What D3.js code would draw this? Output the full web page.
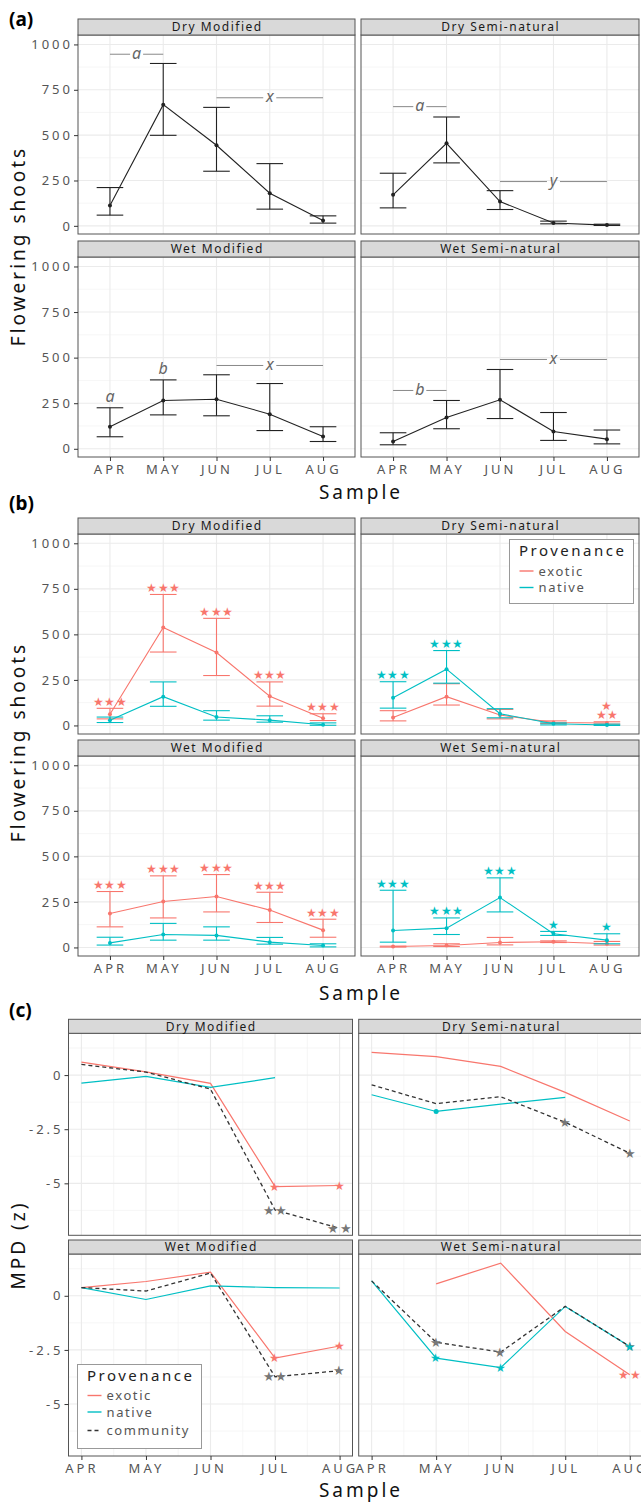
<!DOCTYPE html>
<html>
<head>
<meta charset="utf-8">
<script src="https://cdn.jsdelivr.net/npm/d3@7"></script>
<style>
body { margin: 0; background: #fff; }
text { font-family: "Noto Sans", sans-serif; }
</style>
</head>
<body>
<svg id="chart" width="641" height="1503"></svg>
<script>
// categories
var months = ["APR", "MAY", "JUN", "JUL", "AUG"];
var facets = ["Dry Modified", "Dry Semi-natural", "Wet Modified", "Wet Semi-natural"];

// axis ticks
var shootTicks = [0, 250, 500, 750, 1000];
var shootMinor = [125, 375, 625, 875];
var mpdTicks = [0, -2.5, -5];
var mpdMinor = [1.25, -1.25, -3.75, -6.25];
var monthMinor = [1.5, 2.5, 3.5, 4.5];

// (a) total flowering shoots, one row per facet
var totalMean = [[112, 668, 444, 180, 29], [171, 455, 134, 16, 4], [121, 265, 272, 190, 68], [40, 172, 269, 95, 53]];
var totalLow  = [[59, 499, 301, 92, 15], [99, 347, 90, 11, 2], [66, 186, 181, 100, 40], [22, 110, 166, 46, 27]];
var totalHigh = [[211, 895, 653, 343, 55], [290, 600, 194, 26, 9], [225, 378, 406, 358, 121], [88, 265, 435, 199, 103]];
// letter groups (month index from..to, height in shoots)
var groupBars = [
    {facet: 0, from: 0, to: 1, y: 946, label: "a"},
    {facet: 0, from: 2, to: 4, y: 706, label: "x"},
    {facet: 1, from: 0, to: 1, y: 657, label: "a"},
    {facet: 1, from: 2, to: 4, y: 244, label: "y"},
    {facet: 2, from: 2, to: 4, y: 457, label: "x"},
    {facet: 3, from: 0, to: 1, y: 320, label: "b"},
    {facet: 3, from: 2, to: 4, y: 490, label: "x"}
];
var groupLetters = [
    {facet: 2, month: 0, label: "a"},
    {facet: 2, month: 1, label: "b"}
];

// (b) flowering shoots by provenance
var exoticMean = [[61, 538, 400, 160, 40], [44, 158, 57, 16, 13], [186, 252, 280, 205, 95], [5, 11, 27, 31, 20]];
var exoticLow  = [[36, 403, 274, 106, 27], [25, 112, 36, 11, 7], [113, 162, 195, 137, 56], [2, 5, 14, 27, 13]];
var exoticHigh = [[94, 719, 588, 239, 64], [81, 229, 88, 25, 20], [307, 393, 400, 303, 155], [7, 20, 55, 36, 33]];
var nativeMean = [[29, 158, 46, 29, 4], [152, 309, 64, 9, 2], [25, 71, 66, 29, 11], [93, 106, 274, 75, 40]];
var nativeLow  = [[16, 105, 29, 18, 1], [95, 232, 42, 3, 0], [13, 40, 40, 18, 3], [29, 71, 195, 66, 20]];
var nativeHigh = [[46, 239, 81, 53, 14], [240, 411, 92, 14, 7], [56, 132, 113, 55, 20], [314, 162, 382, 88, 75]];
var exoticSig = [["***", "***", "***", "***", "***"], ["", "", "", "", "*\n**"], ["***", "***", "***", "***", "***"], ["", "", "", "", ""]];
var nativeSig = [["", "", "", "", ""], ["***", "***", "", "", ""], ["", "", "", "", ""], ["***", "***", "***", "*", "*"]];

// (c) MPD (z)
var mpdExotic    = [[0.6, 0.15, -0.38, -5.15, -5.1], [1.05, 0.85, 0.4, -0.8, -2.12], [0.38, 0.66, 1.09, -2.88, -2.32], [null, 0.55, 1.51, -1.65, -3.65]];
var mpdNative    = [[-0.37, -0.06, -0.57, -0.12, null], [-0.91, -1.68, -1.34, -1.03, null], [0.38, -0.17, 0.46, 0.38, 0.36], [0.69, -2.88, -3.32, -0.49, -2.34]];
var mpdCommunity = [[0.49, 0.14, -0.65, -6.23, -7.08], [-0.45, -1.32, -1.0, -2.18, -3.61], [0.38, 0.22, 1.05, -3.74, -3.46], [0.69, -2.15, -2.6, -0.49, -2.34]];
var mpdExoticSig    = [["", "", "", "*", "*"], ["", "", "", "", ""], ["", "", "", "*", "*"], ["", "", "", "", "**"]];
var mpdNativeSig    = [["", "", "", "", ""], ["", ".", "", "", ""], ["", "", "", "", ""], ["", "*", "*", "", "*"]];
var mpdCommunitySig = [["", "", "", "**", "**"], ["", "", "", "*", "*"], ["", "", "", "**", "*"], ["", "*", "*", "", "*"]];

var exoticCol = "#F8766D", nativeCol = "#00BFC4", commCol = "#333333", starGrey = "#777777";
var svg = d3.select("#chart");

function stars(s) { return s.replace(/\*/g, "\u2605"); }

// draws the 2x2 facet frame, returns one object per facet
function drawFrame(cfg) {
    return facets.map(function (name, i) {
        var c = i % 2, r = Math.floor(i / 2);
        var col = cfg.cols[c], row = cfg.rows[r];
        var p = {col: c, row: r, left: col[0], right: col[1], top: row.panel[0], bottom: row.panel[1]};
        var xs;
        if (cfg.discrete) {
            xs = d3.scalePoint().domain(months).range([p.left, p.right]).padding(0.6);
            p.xAt = function (k) { return xs(months[k]); };
        } else {
            xs = d3.scaleLinear().domain(cfg.xDomain).range([p.left, p.right]);
            p.xAt = function (k) { return xs(k + 1); };
        }
        p.y = d3.scaleLinear().domain(cfg.yDomain).range([p.bottom, p.top]);

        var g = svg.append("g");
        g.append("rect").attr("x", p.left).attr("y", p.top)
            .attr("width", p.right - p.left).attr("height", p.bottom - p.top).attr("fill", "#fff");
        g.selectAll(".ymin").data(cfg.yMinor).enter().append("line")
            .attr("x1", p.left).attr("x2", p.right)
            .attr("y1", function (d) { return p.y(d); }).attr("y2", function (d) { return p.y(d); })
            .attr("stroke", "#F2F2F2").attr("stroke-width", 0.7);
        if (!cfg.discrete) {
            g.selectAll(".xmin").data(monthMinor).enter().append("line")
                .attr("y1", p.top).attr("y2", p.bottom)
                .attr("x1", function (d) { return xs(d); }).attr("x2", function (d) { return xs(d); })
                .attr("stroke", "#F2F2F2").attr("stroke-width", 0.7);
        }
        g.selectAll(".ymaj").data(cfg.yTicks).enter().append("line")
            .attr("x1", p.left).attr("x2", p.right)
            .attr("y1", function (d) { return p.y(d); }).attr("y2", function (d) { return p.y(d); })
            .attr("stroke", "#EBEBEB").attr("stroke-width", 1.1);
        g.selectAll(".xmaj").data(months).enter().append("line")
            .attr("y1", p.top).attr("y2", p.bottom)
            .attr("x1", function (d, k) { return p.xAt(k); }).attr("x2", function (d, k) { return p.xAt(k); })
            .attr("stroke", "#EBEBEB").attr("stroke-width", 1.1);

        p.g = g.append("g");

        g.append("rect").attr("x", p.left).attr("y", p.top)
            .attr("width", p.right - p.left).attr("height", p.bottom - p.top)
            .attr("fill", "none").attr("stroke", "#555").attr("stroke-width", 1);

        // strip
        g.append("rect").attr("x", p.left).attr("y", row.strip[0])
            .attr("width", p.right - p.left).attr("height", row.strip[1] - row.strip[0])
            .attr("fill", "#D9D9D9").attr("stroke", "#555").attr("stroke-width", 1);
        g.append("text").attr("x", (p.left + p.right) / 2 + 0.7).attr("y", (row.strip[0] + row.strip[1]) / 2 + 4.3)
            .attr("text-anchor", "middle").attr("font-size", 12).attr("letter-spacing", 1.5)
            .attr("fill", "#1a1a1a").text(name);

        // axes
        if (c === 0) {
            var ya = g.append("g").attr("transform", "translate(" + p.left + ",0)")
                .call(d3.axisLeft(p.y).tickValues(cfg.yTicks).tickFormat(cfg.yFormat).tickSize(4).tickPadding(1));
            ya.select(".domain").remove();
            ya.selectAll("line").attr("stroke", "#333");
            ya.selectAll("text").attr("font-family", "Noto Sans").attr("font-size", 13)
                .attr("letter-spacing", 3).attr("fill", "#555");
        }
        if (r === 1) {
            var xa = g.append("g").attr("transform", "translate(0," + p.bottom + ")");
            if (cfg.discrete) {
                xa.call(d3.axisBottom(xs).tickSize(4).tickPadding(3.8));
            } else {
                xa.call(d3.axisBottom(xs).tickValues([1, 2, 3, 4, 5])
                    .tickFormat(function (d) { return months[d - 1]; }).tickSize(4).tickPadding(3.8));
            }
            xa.select(".domain").remove();
            xa.selectAll("line").attr("stroke", "#333");
            xa.selectAll("text").attr("font-family", "Noto Sans").attr("font-size", 13)
                .attr("letter-spacing", 3).attr("fill", "#555");
        }
        return p;
    });
}

function errorBars(p, mean, low, high, color, capHalf) {
    months.forEach(function (m, k) {
        var x = p.xAt(k);
        p.g.append("line").attr("x1", x).attr("x2", x).attr("y1", p.y(low[k])).attr("y2", p.y(high[k]))
            .attr("stroke", color).attr("stroke-width", 1.1);
        [low[k], high[k]].forEach(function (v) {
            p.g.append("line").attr("x1", x - capHalf).attr("x2", x + capHalf)
                .attr("y1", p.y(v)).attr("y2", p.y(v)).attr("stroke", color).attr("stroke-width", 1.1);
        });
    });
    var line = d3.line().x(function (d, k) { return p.xAt(k); }).y(function (d) { return p.y(d); });
    p.g.append("path").attr("d", line(mean)).attr("fill", "none").attr("stroke", color).attr("stroke-width", 1.1);
    p.g.selectAll(null).data(mean).enter().append("circle")
        .attr("cx", function (d, k) { return p.xAt(k); }).attr("cy", function (d) { return p.y(d); })
        .attr("r", 2).attr("fill", color);
}

function starLabel(p, k, yPix, label, color, size) {
    if (!label) return;
    if (label === ".") {
        p.g.append("circle").attr("cx", p.xAt(k)).attr("cy", yPix).attr("r", 2.5).attr("fill", color);
        return;
    }
    var lines = label.split("\n");
    lines.forEach(function (s, j) {
        p.g.append("text").attr("x", p.xAt(k)).attr("y", yPix - (lines.length - 1 - j) * 9)
            .attr("dy", "0.36em").attr("text-anchor", "middle")
            .attr("font-family", "DejaVu Sans").attr("font-size", size).attr("letter-spacing", 0.4)
            .attr("fill", color).text(stars(s));
    });
}

function sideTitles(text, cx, cy, xTitleY, xTitle) {
    svg.append("text").attr("transform", "translate(25," + cy + ") rotate(-90)")
        .attr("text-anchor", "middle").attr("font-size", 19).attr("letter-spacing", 3)
        .attr("fill", "#111").text(text);
    svg.append("text").attr("x", cx).attr("y", xTitleY)
        .attr("text-anchor", "middle").attr("font-size", 19).attr("letter-spacing", 3)
        .attr("fill", "#111").text(xTitle);
}

function panelTag(label, y) {
    svg.append("text").attr("x", 9).attr("y", y)
        .attr("font-family", "Liberation Sans").attr("font-weight", "bold")
        .attr("font-size", 19).attr("fill", "#000").text(label);
}

function legend(x, y, w, h, items) {
    var g = svg.append("g");
    g.append("rect").attr("x", x).attr("y", y).attr("width", w).attr("height", h)
        .attr("fill", "#fff").attr("stroke", "#999").attr("stroke-width", 1);
    g.append("text").attr("x", x + 9.5).attr("y", y + 16.5).attr("font-size", 15)
        .attr("letter-spacing", 2.5).attr("fill", "#222").text("Provenance");
    items.forEach(function (it, j) {
        var yy = y + it.dy;
        g.append("line").attr("x1", x + 10).attr("x2", x + 24).attr("y1", yy).attr("y2", yy)
            .attr("stroke", it.color).attr("stroke-width", 1.4).attr("stroke-dasharray", it.dash || null);
        g.append("text").attr("x", x + 29).attr("y", yy + 4.5).attr("font-size", 13)
            .attr("letter-spacing", 1.6).attr("fill", "#555").text(it.label);
    });
}

// ---------- (a) ----------
panelTag("(a)", 26);
var pa = drawFrame({
    discrete: true,
    cols: [[78, 355], [361, 639]],
    rows: [{strip: [19, 35], panel: [35, 234]}, {strip: [241, 257], panel: [257, 457]}],
    yDomain: [-45, 1052], yTicks: shootTicks, yMinor: shootMinor, yFormat: d3.format("d")
});
pa.forEach(function (p, i) {
    errorBars(p, totalMean[i], totalLow[i], totalHigh[i], "#222", 13.3);
});
groupBars.forEach(function (b) {
    var p = pa[b.facet];
    var x1 = p.xAt(b.from), x2 = p.xAt(b.to), mid = (x1 + x2) / 2, yy = p.y(b.y);
    p.g.append("line").attr("x1", x1).attr("x2", mid - 6.5).attr("y1", yy).attr("y2", yy)
        .attr("stroke", "#888").attr("stroke-width", 1);
    p.g.append("line").attr("x1", mid + 6.5).attr("x2", x2).attr("y1", yy).attr("y2", yy)
        .attr("stroke", "#888").attr("stroke-width", 1);
    p.g.append("text").attr("x", mid).attr("y", yy + 4.5).attr("text-anchor", "middle")
        .attr("font-size", 16).attr("font-style", "italic").attr("fill", "#666").text(b.label);
});
groupLetters.forEach(function (l) {
    var p = pa[l.facet];
    p.g.append("text").attr("x", p.xAt(l.month)).attr("y", p.y(totalHigh[l.facet][l.month]) - 6)
        .attr("text-anchor", "middle").attr("font-size", 16).attr("font-style", "italic")
        .attr("fill", "#666").text(l.label);
});
sideTitles("Flowering shoots", 361, 246, 499, "Sample");

// ---------- (b) ----------
panelTag("(b)", 510);
var pb = drawFrame({
    discrete: true,
    cols: [[78, 355], [361, 639]],
    rows: [{strip: [518, 534], panel: [534, 734]}, {strip: [740, 756], panel: [756, 956]}],
    yDomain: [-47, 1051], yTicks: shootTicks, yMinor: shootMinor, yFormat: d3.format("d")
});
pb.forEach(function (p, i) {
    errorBars(p, exoticMean[i], exoticLow[i], exoticHigh[i], exoticCol, 13.3);
    errorBars(p, nativeMean[i], nativeLow[i], nativeHigh[i], nativeCol, 13.3);
    months.forEach(function (m, k) {
        starLabel(p, k, p.y(exoticHigh[i][k]) - 7, exoticSig[i][k], exoticCol, 12);
        starLabel(p, k, p.y(nativeHigh[i][k]) - 7, nativeSig[i][k], nativeCol, 12);
    });
});
legend(509.5, 539.5, 124, 64, [
    {label: "exotic", color: exoticCol, dy: 31.5},
    {label: "native", color: nativeCol, dy: 48}
]);
sideTitles("Flowering shoots", 361, 742, 1000, "Sample");

// ---------- (c) ----------
panelTag("(c)", 1017);
var pc = drawFrame({
    discrete: false, xDomain: [0.8, 5.2],
    cols: [[68.5, 352.5], [358.7, 642.7]],
    rows: [{strip: [1019.3, 1033.3], panel: [1033.3, 1235.3]}, {strip: [1240, 1254], panel: [1254, 1456]}],
    yDomain: [-7.4, 1.93], yTicks: mpdTicks, yMinor: mpdMinor, yFormat: function (d) { return d === 0 ? "0" : String(d); }
});
pc.forEach(function (p, i) {
    var line = d3.line().defined(function (d) { return d !== null; })
        .x(function (d, k) { return p.xAt(k); }).y(function (d) { return p.y(d); });
    p.g.append("path").attr("d", line(mpdExotic[i])).attr("fill", "none")
        .attr("stroke", exoticCol).attr("stroke-width", 1.2);
    p.g.append("path").attr("d", line(mpdNative[i])).attr("fill", "none")
        .attr("stroke", nativeCol).attr("stroke-width", 1.2);
    p.g.append("path").attr("d", line(mpdCommunity[i])).attr("fill", "none")
        .attr("stroke", commCol).attr("stroke-width", 1.3).attr("stroke-dasharray", "4,3");
    months.forEach(function (m, k) {
        if (mpdCommunity[i][k] !== null) starLabel(p, k, p.y(mpdCommunity[i][k]), mpdCommunitySig[i][k], starGrey, 13);
        if (mpdExotic[i][k] !== null) starLabel(p, k, p.y(mpdExotic[i][k]), mpdExoticSig[i][k], exoticCol, 12);
        if (mpdNative[i][k] !== null) starLabel(p, k, p.y(mpdNative[i][k]), mpdNativeSig[i][k], nativeCol, 12);
    });
});
legend(77.5, 1364.5, 124, 84, [
    {label: "exotic", color: exoticCol, dy: 31},
    {label: "native", color: nativeCol, dy: 47.5},
    {label: "community", color: commCol, dy: 66, dash: "4,3"}
]);
sideTitles("MPD (z)", 361, 1245, 1497, "Sample");
</script>
</body>
</html>
